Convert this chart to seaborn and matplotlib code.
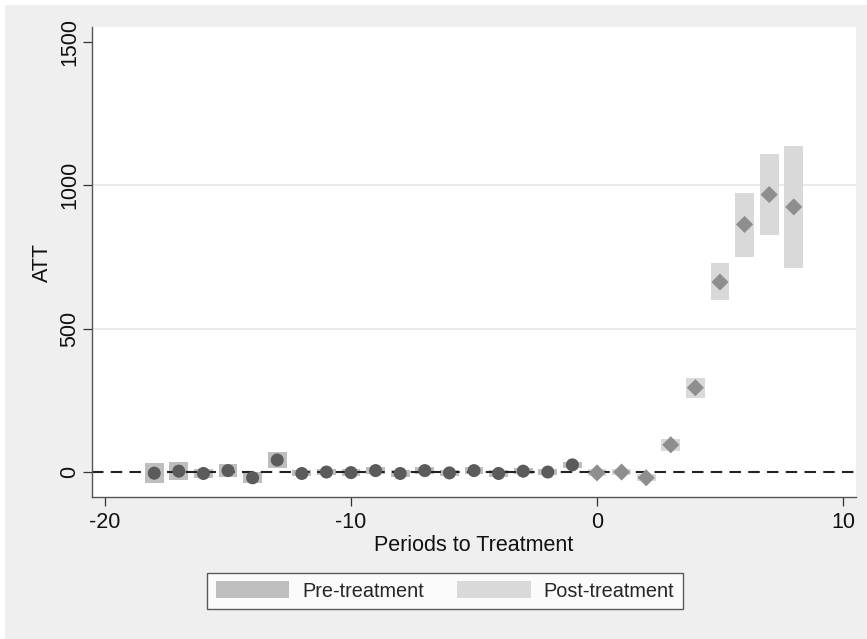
import numpy as np
import pandas as pd
import matplotlib
matplotlib.use("Agg")
import matplotlib.pyplot as plt
from matplotlib.patches import Patch, Rectangle
import seaborn as sns

# Event-study estimates: periods relative to treatment
pre_periods = [-18, -17, -16, -15, -14, -13, -12, -11, -10, -9,
               -8, -7, -6, -5, -4, -3, -2, -1]
pre_att = [-4, 3, -5, 5, -20, 42, -5, 0, -2, 5,
           -5, 5, -3, 5, -5, 3, 0, 25]
pre_lo = [-39, -29, -22, -18, -39, 13, -15, -11, -13, -6,
          -16, -6, -14, -6, -16, -8, -11, 14]
pre_hi = [32, 34, 12, 29, 1, 71, 6, 11, 9, 16,
          6, 16, 8, 16, 6, 14, 11, 36]

post_periods = [0, 1, 2, 3, 4, 5, 6, 7, 8]
post_att = [-3, 0, -20, 95, 294, 662, 863, 967, 924]
post_lo = [-15, -12, -32, 75, 259, 598, 751, 827, 711]
post_hi = [10, 12, -8, 115, 329, 727, 971, 1107, 1138]

legend_labels = ["Pre-treatment", "Post-treatment"]
x_ticks = [-20, -10, 0, 10]
y_ticks = [0, 500, 1000, 1500]

pre = pd.DataFrame({"period": pre_periods, "att": pre_att, "lo": pre_lo, "hi": pre_hi})
post = pd.DataFrame({"period": post_periods, "att": post_att, "lo": post_lo, "hi": post_hi})

sns.set_theme(style="white")
plt.rcParams["font.family"] = ["Liberation Sans", "DejaVu Sans"]

PRE_BOX = "#bebebe"
POST_BOX = "#d9d9d9"
PRE_MARK = "#5b5b5b"
POST_MARK = "#8e8e8e"
BG = "#efefef"

fig = plt.figure(figsize=(8.67, 6.39), dpi=100, facecolor="white")
fig.patches.append(Rectangle((5 / 867, 0), 1, 1 - 5 / 639, transform=fig.transFigure,
                             facecolor=BG, edgecolor="none", zorder=-10))
ax = fig.add_axes([92 / 867, 1 - 497 / 639, (856 - 92) / 867, (497 - 27) / 639])
ax.set_facecolor("white")

# Gridlines at interior y ticks
for yv in y_ticks[1:-1]:
    ax.axhline(yv, color="#e6e6e6", lw=1.2, zorder=0)

# Confidence-interval boxes
ax.bar(pre["period"], pre["hi"] - pre["lo"], bottom=pre["lo"], width=0.76,
       color=PRE_BOX, edgecolor="none", zorder=1)
ax.bar(post["period"], post["hi"] - post["lo"], bottom=post["lo"], width=0.76,
       color=POST_BOX, edgecolor="none", zorder=1)

ax.axhline(0, color="#222222", lw=1.5, ls=(0, (5.5, 3.5)), zorder=2)

sns.scatterplot(data=pre, x="period", y="att", ax=ax, marker="o", s=88,
                color=PRE_MARK, edgecolor="none", linewidth=0, zorder=3, legend=False)
sns.scatterplot(data=post, x="period", y="att", ax=ax, marker="D", s=76,
                color=POST_MARK, edgecolor="none", linewidth=0, zorder=3, legend=False)

ax.set_xlim(-20.53, 10.53)
ax.set_ylim(-87, 1551)
ax.set_xticks(x_ticks)
ax.set_yticks(y_ticks)
ax.set_xticklabels([str(v) for v in x_ticks], fontsize=15.5)
ax.set_yticklabels([str(v) for v in y_ticks], fontsize=15.5, rotation=90, va="center")
ax.tick_params(axis="both", which="major", direction="out", length=6.5, width=0.9,
               color="#333333", labelcolor="#111111", bottom=True, left=True)
ax.tick_params(axis="x", pad=4)
ax.tick_params(axis="y", pad=2)

for side in ["top", "right"]:
    ax.spines[side].set_visible(False)
for side in ["left", "bottom"]:
    ax.spines[side].set_color("#555555")
    ax.spines[side].set_linewidth(1.0)

ax.set_xlabel("Periods to Treatment", fontsize=15.5, color="#111111", labelpad=2)
ax.set_ylabel("ATT", fontsize=15.5, color="#111111")
ax.yaxis.set_label_coords(-39 / 764, 0.5)

handles = [Patch(facecolor=PRE_BOX, edgecolor="none"),
           Patch(facecolor=POST_BOX, edgecolor="none")]
leg = fig.legend(handles, legend_labels, loc="center", bbox_to_anchor=(445 / 867, 1 - 591 / 639),
                 ncol=2, fontsize=14.3, frameon=True, fancybox=False, handlelength=3.7,
                 handleheight=0.9, handletextpad=0.65, columnspacing=1.7, borderpad=0.45,
                 borderaxespad=0)
leg.get_frame().set_edgecolor("#333333")
leg.get_frame().set_linewidth(1.0)
leg.get_frame().set_facecolor("white")

fig.savefig("out.png", dpi=100, facecolor=fig.get_facecolor())
